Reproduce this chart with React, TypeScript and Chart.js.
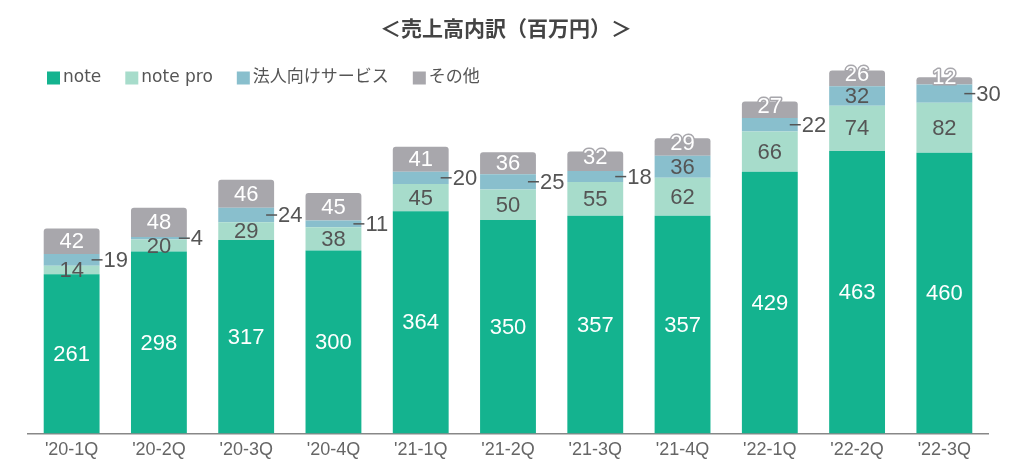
import React, { useEffect, useRef } from "react";
import { Chart, registerables } from "chart.js";

Chart.register(...registerables);

const categories = ["'20-1Q", "'20-2Q", "'20-3Q", "'20-4Q", "'21-1Q", "'21-2Q", "'21-3Q", "'21-4Q", "'22-1Q", "'22-2Q", "'22-3Q"];
const noteValues = [261, 298, 317, 300, 364, 350, 357, 357, 429, 463, 460];
const noteProValues = [14, 20, 29, 38, 45, 50, 55, 62, 66, 74, 82];
const corporateValues = [19, 4, 24, 11, 20, 25, 18, 36, 22, 32, 30];
const otherValues = [42, 48, 46, 45, 41, 36, 32, 29, 27, 26, 12];
const seriesLabels = ["note", "note pro", "法人向けサービス", "その他"];
const seriesColors = ["#14b38f", "#a7dccb", "#89bfcd", "#a8a7ac"];
const titleText = "＜売上高内訳（百万円）＞";

const NUM_FONT = "22px 'Liberation Sans', Arial, sans-serif";
const DARK = "#555555";

const labelPlugin = {
  id: "segLabels",
  afterDatasetsDraw(chart: any) {
    const ctx = chart.ctx;
    ctx.save();
    ctx.font = NUM_FONT;
    ctx.textBaseline = "middle";
    chart.data.datasets.forEach((ds: any, di: number) => {
      const meta = chart.getDatasetMeta(di);
      meta.data.forEach((bar: any, i: number) => {
        const v = ds.data[i];
        const p = bar.getProps(["x", "y", "base", "width"], true);
        const cy = (p.y + p.base) / 2;
        const h = Math.abs(p.base - p.y);
        const txt = String(v);
        if (di === 0) {
          ctx.textAlign = "center";
          ctx.fillStyle = "#ffffff";
          ctx.fillText(txt, p.x, cy + 1);
        } else if (di === 1) {
          ctx.textAlign = "center";
          ctx.fillStyle = DARK;
          ctx.fillText(txt, p.x, cy + 1);
        } else if (di === 2) {
          if (h < 19) {
            const right = p.x + p.width / 2;
            ctx.strokeStyle = DARK;
            ctx.lineWidth = 1.5;
            ctx.beginPath();
            ctx.moveTo(right - 8, cy);
            ctx.lineTo(right + 3, cy);
            ctx.stroke();
            ctx.textAlign = "left";
            ctx.fillStyle = DARK;
            ctx.fillText(txt, right + 4, cy + 1);
          } else {
            ctx.textAlign = "center";
            ctx.fillStyle = DARK;
            ctx.fillText(txt, p.x, cy + 1);
          }
        } else {
          ctx.textAlign = "center";
          ctx.lineWidth = 3;
          ctx.lineJoin = "round";
          ctx.strokeStyle = seriesColors[3];
          const yy = h < 20 ? cy - 3 : cy + 1;
          ctx.strokeText(txt, p.x, yy);
          ctx.fillStyle = "#ffffff";
          ctx.fillText(txt, p.x, yy);
        }
      });
    });
    ctx.restore();
  },
};

const headerPlugin = {
  id: "header",
  afterDraw(chart: any) {
    const ctx = chart.ctx;
    ctx.save();
    ctx.font = "bold 21px 'Noto Sans CJK JP', sans-serif";
    ctx.fillStyle = "#444444";
    ctx.textAlign = "center";
    ctx.textBaseline = "middle";
    ctx.fillText(titleText, 506, 28);

    ctx.font = "17px 'DejaVu Sans', 'Noto Sans CJK JP', sans-serif";
    ctx.textAlign = "left";
    let x = 47;
    const y = 78;
    chart.data.datasets.forEach((ds: any) => {
      ctx.fillStyle = ds.backgroundColor;
      ctx.fillRect(x, y - 6.5, 13, 13);
      ctx.fillStyle = "#555555";
      ctx.fillText(ds.label, x + 16, y);
      x += 16 + ctx.measureText(ds.label).width + 24;
    });
    ctx.restore();
  },
};

export default function App() {
  const ref = useRef<HTMLCanvasElement | null>(null);
  useEffect(() => {
    if (!ref.current) return;
    const valueSets = [noteValues, noteProValues, corporateValues, otherValues];
    const chart = new Chart(ref.current, {
      type: "bar",
      data: {
        labels: categories,
        datasets: valueSets.map((vals, i) => ({
          label: seriesLabels[i],
          data: vals,
          backgroundColor: seriesColors[i],
          borderWidth: 0,
          borderRadius: i === 3 ? { topLeft: 3, topRight: 3, bottomLeft: 0, bottomRight: 0 } : 0,
          borderSkipped: false,
          barPercentage: 0.64,
          categoryPercentage: 1,
        })),
      },
      options: {
        animation: false,
        responsive: true,
        maintainAspectRatio: false,
        layout: { padding: { left: 28, right: 36, top: 43, bottom: 7 } },
        plugins: {
          legend: { display: false },
          title: { display: false },
          tooltip: { enabled: false },
        },
        scales: {
          x: {
            stacked: true,
            grid: { display: false, drawTicks: false },
            border: { display: true, color: "#888888", width: 1.5 },
            ticks: {
              color: "#666666",
              padding: 6,
              font: { family: "'Liberation Sans', Arial, sans-serif", size: 18 },
            },
          },
          y: {
            stacked: true,
            display: false,
            min: 0,
            max: 640,
          },
        },
      },
      plugins: [labelPlugin, headerPlugin],
    });
    return () => chart.destroy();
  }, []);
  return (
    <div style={{ position: "absolute", left: 0, top: 0, width: 1024, height: 474, background: "#ffffff" }}>
      <canvas ref={ref} />
    </div>
  );
}
